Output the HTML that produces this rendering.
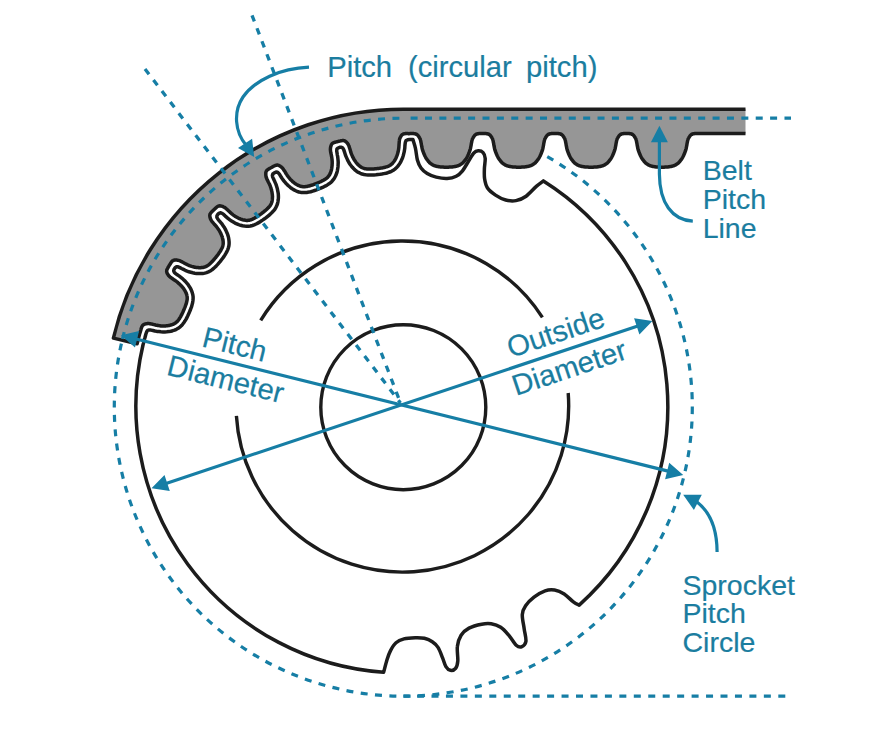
<!DOCTYPE html>
<html><head><meta charset="utf-8"><style>html,body{margin:0;padding:0;background:#fff;}svg{display:block;}</style></head>
<body><svg width="883" height="756" viewBox="0 0 883 756">
<rect width="883" height="756" fill="#fff"/>
<g fill="none" stroke="#167ea5" stroke-width="3.2" stroke-dasharray="7 7.4">
<circle cx="403.3" cy="407.2" r="289"/>
<path d="M403.3 696.2L785.5 696.2" stroke-dasharray="7 7.45" stroke-dashoffset="0.7"/>
</g>
<path d="M113.4 338.1A298 298 0 0 1 403.3 109.2L745.5 109.2L745.5 133.6L698.2 133.6L698.2 133.6L697.9 133.6L697.5 133.6L697.1 133.6L696.6 133.6L696.1 133.6L695.7 133.6L695.3 133.6L694.8 133.6L694.4 133.6L694 133.7L693.6 133.7L693.2 133.8L692.8 133.9L692.4 134L692.1 134.2L691.7 134.3L691.4 134.6L691.1 134.8L690.7 135.1L690.4 135.4L690.1 135.8L689.8 136.2L689.5 136.6L689.3 137L689 137.4L688.8 137.8L688.5 138.3L688.3 138.7L688.1 139.2L687.9 139.7L687.8 140.2L687.6 140.8L687.5 141.3L687.4 141.9L687.3 142.5L687.1 143.2L687 143.9L686.9 144.6L686.8 145.4L686.6 146.2L686.5 146.9L686.3 147.7L686.2 148.4L686 149.2L685.8 149.9L685.5 150.7L685.3 151.4L685 152.2L684.7 153L684.4 153.7L684.1 154.5L683.7 155.3L683.4 156L683 156.7L682.7 157.3L682.3 158L682 158.5L681.6 159.1L681.2 159.7L680.8 160.2L680.4 160.7L679.9 161.3L679.5 161.8L679 162.3L678.6 162.8L678.1 163.2L677.6 163.6L677.1 164L676.6 164.3L676.1 164.6L675.6 164.9L675.1 165.2L674.6 165.4L674.1 165.6L673.6 165.8L673.1 165.9L672.6 166.1L672.1 166.2L671.5 166.3L670.9 166.5L670.2 166.6L669.6 166.7L668.8 166.8L668 166.9L667.1 167L666.2 167.1L665.1 167.1L664.1 167.2L663 167.2L662 167.2L661 167.2L659.9 167.2L658.9 167.1L657.8 167.1L656.9 167L656 166.9L655.2 166.8L654.4 166.7L653.8 166.6L653.1 166.5L652.5 166.3L651.9 166.2L651.4 166.1L650.9 165.9L650.4 165.8L649.9 165.6L649.4 165.4L648.9 165.2L648.4 164.9L647.9 164.6L647.4 164.3L646.9 164L646.4 163.6L645.9 163.2L645.4 162.8L645 162.3L644.5 161.8L644.1 161.3L643.6 160.7L643.2 160.2L642.8 159.7L642.4 159.1L642 158.5L641.7 158L641.3 157.3L641 156.7L640.6 156L640.3 155.3L639.9 154.5L639.6 153.7L639.3 153L639 152.2L638.7 151.4L638.5 150.7L638.2 149.9L638 149.2L637.8 148.4L637.7 147.7L637.5 146.9L637.4 146.2L637.2 145.4L637.1 144.6L637 143.9L636.9 143.2L636.7 142.5L636.6 141.9L636.5 141.3L636.4 140.8L636.2 140.2L636.1 139.7L635.9 139.2L635.7 138.7L635.5 138.3L635.2 137.8L635 137.4L634.7 137L634.5 136.6L634.2 136.2L633.9 135.8L633.6 135.4L633.3 135.1L632.9 134.8L632.6 134.6L632.3 134.3L631.9 134.2L631.6 134L631.2 133.9L630.8 133.8L630.4 133.7L630 133.7L629.6 133.6L629.2 133.6L628.7 133.6L628.3 133.6L627.9 133.6L627.4 133.6L626.9 133.6L626.5 133.6L626.1 133.6L625.8 133.6L627.2 133.6L626.9 133.6L626.5 133.6L626.1 133.6L625.6 133.6L625.1 133.6L624.7 133.6L624.3 133.6L623.8 133.6L623.4 133.6L623 133.7L622.6 133.7L622.2 133.8L621.8 133.9L621.4 134L621.1 134.2L620.7 134.3L620.4 134.6L620.1 134.8L619.7 135.1L619.4 135.4L619.1 135.8L618.8 136.2L618.5 136.6L618.3 137L618 137.4L617.8 137.8L617.5 138.3L617.3 138.7L617.1 139.2L616.9 139.7L616.8 140.2L616.6 140.8L616.5 141.3L616.4 141.9L616.3 142.5L616.1 143.2L616 143.9L615.9 144.6L615.8 145.4L615.6 146.2L615.5 146.9L615.3 147.7L615.2 148.4L615 149.2L614.8 149.9L614.5 150.7L614.3 151.4L614 152.2L613.7 153L613.4 153.7L613.1 154.5L612.7 155.3L612.4 156L612 156.7L611.7 157.3L611.3 158L611 158.5L610.6 159.1L610.2 159.7L609.8 160.2L609.4 160.7L608.9 161.3L608.5 161.8L608 162.3L607.6 162.8L607.1 163.2L606.6 163.6L606.1 164L605.6 164.3L605.1 164.6L604.6 164.9L604.1 165.2L603.6 165.4L603.1 165.6L602.6 165.8L602.1 165.9L601.6 166.1L601.1 166.2L600.5 166.3L599.9 166.5L599.2 166.6L598.6 166.7L597.8 166.8L597 166.9L596.1 167L595.2 167.1L594.1 167.1L593.1 167.2L592 167.2L591 167.2L590 167.2L588.9 167.2L587.9 167.1L586.8 167.1L585.9 167L585 166.9L584.2 166.8L583.4 166.7L582.8 166.6L582.1 166.5L581.5 166.3L580.9 166.2L580.4 166.1L579.9 165.9L579.4 165.8L578.9 165.6L578.4 165.4L577.9 165.2L577.4 164.9L576.9 164.6L576.4 164.3L575.9 164L575.4 163.6L574.9 163.2L574.4 162.8L574 162.3L573.5 161.8L573.1 161.3L572.6 160.7L572.2 160.2L571.8 159.7L571.4 159.1L571 158.5L570.7 158L570.3 157.3L570 156.7L569.6 156L569.3 155.3L568.9 154.5L568.6 153.7L568.3 153L568 152.2L567.7 151.4L567.5 150.7L567.2 149.9L567 149.2L566.8 148.4L566.7 147.7L566.5 146.9L566.4 146.2L566.2 145.4L566.1 144.6L566 143.9L565.9 143.2L565.7 142.5L565.6 141.9L565.5 141.3L565.4 140.8L565.2 140.2L565.1 139.7L564.9 139.2L564.7 138.7L564.5 138.3L564.2 137.8L564 137.4L563.7 137L563.5 136.6L563.2 136.2L562.9 135.8L562.6 135.4L562.3 135.1L561.9 134.8L561.6 134.6L561.3 134.3L560.9 134.2L560.6 134L560.2 133.9L559.8 133.8L559.4 133.7L559 133.7L558.6 133.6L558.2 133.6L557.7 133.6L557.3 133.6L556.9 133.6L556.4 133.6L555.9 133.6L555.5 133.6L555.1 133.6L554.8 133.6L554.9 133.6L554.6 133.6L554.2 133.6L553.8 133.6L553.3 133.6L552.8 133.6L552.4 133.6L552 133.6L551.5 133.6L551.1 133.6L550.7 133.7L550.3 133.7L549.9 133.8L549.5 133.9L549.1 134L548.8 134.2L548.4 134.3L548.1 134.6L547.8 134.8L547.4 135.1L547.1 135.4L546.8 135.8L546.5 136.2L546.2 136.6L546 137L545.7 137.4L545.5 137.8L545.2 138.3L545 138.7L544.8 139.2L544.6 139.7L544.5 140.2L544.3 140.8L544.2 141.3L544.1 141.9L544 142.5L543.8 143.2L543.7 143.9L543.6 144.6L543.5 145.4L543.3 146.2L543.2 146.9L543 147.7L542.9 148.4L542.7 149.2L542.5 149.9L542.2 150.7L542 151.4L541.7 152.2L541.4 153L541.1 153.7L540.8 154.5L540.4 155.3L540.1 156L539.7 156.7L539.4 157.3L539 158L538.7 158.5L538.3 159.1L537.9 159.7L537.5 160.2L537.1 160.7L536.6 161.3L536.2 161.8L535.7 162.3L535.3 162.8L534.8 163.2L534.3 163.6L533.8 164L533.3 164.3L532.8 164.6L532.3 164.9L531.8 165.2L531.3 165.4L530.8 165.6L530.3 165.8L529.8 165.9L529.3 166.1L528.8 166.2L528.2 166.3L527.6 166.5L526.9 166.6L526.3 166.7L525.5 166.8L524.7 166.9L523.8 167L522.9 167.1L521.8 167.1L520.8 167.2L519.7 167.2L518.7 167.2L517.7 167.2L516.6 167.2L515.6 167.1L514.5 167.1L513.6 167L512.7 166.9L511.9 166.8L511.1 166.7L510.5 166.6L509.8 166.5L509.2 166.3L508.6 166.2L508.1 166.1L507.6 165.9L507.1 165.8L506.6 165.6L506.1 165.4L505.6 165.2L505.1 164.9L504.6 164.6L504.1 164.3L503.6 164L503.1 163.6L502.6 163.2L502.1 162.8L501.7 162.3L501.2 161.8L500.8 161.3L500.3 160.7L499.9 160.2L499.5 159.7L499.1 159.1L498.7 158.5L498.4 158L498 157.3L497.7 156.7L497.3 156L497 155.3L496.6 154.5L496.3 153.7L496 153L495.7 152.2L495.4 151.4L495.2 150.7L494.9 149.9L494.7 149.2L494.5 148.4L494.4 147.7L494.2 146.9L494.1 146.2L493.9 145.4L493.8 144.6L493.7 143.9L493.6 143.2L493.4 142.5L493.3 141.9L493.2 141.3L493.1 140.8L492.9 140.2L492.8 139.7L492.6 139.2L492.4 138.7L492.2 138.3L491.9 137.8L491.7 137.4L491.4 137L491.2 136.6L490.9 136.2L490.6 135.8L490.3 135.4L490 135.1L489.6 134.8L489.3 134.6L489 134.3L488.6 134.2L488.3 134L487.9 133.9L487.5 133.8L487.1 133.7L486.7 133.7L486.3 133.6L485.9 133.6L485.4 133.6L485 133.6L484.6 133.6L484.1 133.6L483.6 133.6L483.2 133.6L482.8 133.6L482.5 133.6L482.5 133.6L482.5 133.6L482.2 133.6L481.8 133.6L481.4 133.6L480.9 133.6L480.4 133.6L480 133.6L479.6 133.6L479.1 133.6L478.7 133.6L478.3 133.7L477.9 133.7L477.5 133.8L477.1 133.9L476.7 134L476.4 134.2L476 134.3L475.7 134.6L475.4 134.8L475 135.1L474.7 135.4L474.4 135.8L474.1 136.2L473.8 136.6L473.6 137L473.3 137.4L473.1 137.8L472.8 138.3L472.6 138.7L472.4 139.2L472.2 139.7L472.1 140.2L471.9 140.8L471.8 141.3L471.7 141.9L471.6 142.5L471.4 143.2L471.3 143.9L471.2 144.6L471.1 145.4L470.9 146.2L470.8 146.9L470.6 147.7L470.5 148.4L470.3 149.2L470.1 149.9L469.8 150.7L469.6 151.4L469.3 152.2L469 153L468.7 153.7L468.4 154.5L468 155.3L467.7 156L467.3 156.7L467 157.3L466.6 158L466.3 158.5L465.9 159.1L465.5 159.7L465.1 160.2L464.7 160.7L464.2 161.3L463.8 161.8L463.3 162.3L462.9 162.8L462.4 163.2L461.9 163.6L461.4 164L460.9 164.3L460.4 164.6L459.9 164.9L459.4 165.2L458.9 165.4L458.4 165.6L457.9 165.8L457.4 165.9L456.9 166.1L456.4 166.2L455.8 166.3L455.2 166.5L454.5 166.6L453.9 166.7L453.1 166.8L452.3 166.9L451.4 167L450.5 167.1L449.4 167.1L448.4 167.2L447.3 167.2L446.3 167.2L445.3 167.2L444.2 167.2L443.2 167.1L442.1 167.1L441.2 167L440.3 166.9L439.5 166.8L438.7 166.7L438.1 166.6L437.4 166.5L436.8 166.3L436.2 166.2L435.7 166.1L435.2 165.9L434.7 165.8L434.2 165.6L433.7 165.4L433.2 165.2L432.7 164.9L432.2 164.6L431.7 164.3L431.2 164L430.7 163.6L430.2 163.2L429.7 162.8L429.3 162.3L428.8 161.8L428.4 161.3L427.9 160.7L427.5 160.2L427.1 159.7L426.7 159.1L426.3 158.5L426 158L425.6 157.3L425.3 156.7L424.9 156L424.6 155.3L424.2 154.5L423.9 153.7L423.6 153L423.3 152.2L423 151.4L422.8 150.7L422.5 149.9L422.3 149.2L422.1 148.4L422 147.7L421.8 146.9L421.7 146.2L421.5 145.4L421.4 144.6L421.3 143.9L421.2 143.2L421 142.5L420.9 141.9L420.8 141.3L420.7 140.8L420.5 140.2L420.4 139.7L420.2 139.2L420 138.7L419.8 138.3L419.5 137.8L419.3 137.4L419 137L418.8 136.6L418.5 136.2L418.2 135.8L417.9 135.4L417.6 135.1L417.2 134.8L416.9 134.6L416.6 134.3L416.2 134.2L415.9 134L415.5 133.9L415.1 133.8L414.7 133.7L414.3 133.7L413.9 133.6L413.5 133.6L413 133.6L412.6 133.6L412.2 133.6L411.7 133.6L411.2 133.6L410.8 133.6L410.4 133.6L410.1 133.6L409 133.7L409 133.7L408.7 133.7L408.3 133.6L407.9 133.6L407.4 133.6L406.9 133.6L406.5 133.6L406.1 133.6L405.7 133.6L405.2 133.6L404.8 133.7L404.4 133.7L404 133.8L403.7 133.9L403.3 134L403 134.2L402.7 134.3L402.4 134.6L402.1 134.8L401.8 135.1L401.5 135.4L401.2 135.8L401 136.2L400.7 136.6L400.5 137L400.3 137.4L400.1 137.9L399.9 138.3L399.8 138.7L399.6 139.2L399.5 139.7L399.4 140.3L399.3 140.8L399.3 141.4L399.2 142L399.2 142.6L399.1 143.2L399.1 143.9L399 144.7L399 145.4L398.9 146.2L398.9 147L398.8 147.7L398.7 148.5L398.6 149.2L398.5 150L398.3 150.7L398.2 151.5L398 152.3L397.8 153L397.6 153.8L397.3 154.6L397.1 155.4L396.8 156.1L396.5 156.8L396.2 157.4L396 158.1L395.7 158.7L395.4 159.2L395.1 159.8L394.7 160.3L394.4 160.9L394 161.5L393.6 162L393.2 162.5L392.8 163L392.4 163.4L391.9 163.9L391.5 164.3L391 164.6L390.6 165L390.1 165.3L389.6 165.6L389.2 165.8L388.7 166.1L388.3 166.3L387.8 166.4L387.3 166.6L386.7 166.8L386.2 166.9L385.6 167.1L385 167.3L384.3 167.5L383.6 167.6L382.9 167.8L382 167.9L381 168.1L380 168.2L379 168.4L378 168.5L377 168.6L376 168.8L374.9 168.8L373.9 168.9L372.9 169L371.9 169L371 169.1L370.2 169.1L369.5 169.1L368.8 169.1L368.2 169L367.6 169L367 168.9L366.4 168.9L365.9 168.8L365.4 168.8L364.9 168.7L364.5 168.6L364 168.4L363.4 168.2L362.9 168L362.4 167.8L361.8 167.5L361.3 167.2L360.8 166.9L360.3 166.6L359.8 166.2L359.3 165.8L358.8 165.3L358.3 164.9L357.8 164.4L357.4 164L356.9 163.5L356.5 163L356.1 162.5L355.7 161.9L355.3 161.3L354.9 160.7L354.4 160.1L354 159.4L353.6 158.7L353.2 157.9L352.8 157.2L352.5 156.5L352.2 155.8L351.9 155.1L351.6 154.4L351.3 153.7L351.1 153L350.8 152.3L350.6 151.5L350.4 150.8L350.2 150L350 149.3L349.8 148.7L349.6 148.1L349.4 147.5L349.2 146.9L349.1 146.4L348.9 145.8L348.6 145.3L348.4 144.9L348.2 144.4L347.9 144L347.6 143.6L347.4 143.3L347.1 142.9L346.8 142.6L346.5 142.2L346.1 141.9L345.8 141.6L345.4 141.3L345.1 141.1L344.7 140.9L344.4 140.8L344 140.7L343.7 140.6L343.3 140.6L342.9 140.5L342.6 140.6L342.1 140.6L341.7 140.7L341.3 140.7L340.9 140.8L340.5 140.9L340.1 141L339.6 141.1L339.1 141.2L338.7 141.3L338.3 141.4L338.1 141.5L338 141.5L338 141.5L337.7 141.6L337.4 141.7L336.9 141.8L336.5 141.9L336 142L335.6 142.1L335.2 142.2L334.8 142.3L334.4 142.5L334 142.6L333.6 142.7L333.2 142.9L332.9 143.1L332.6 143.3L332.3 143.6L332.1 143.8L331.8 144.1L331.6 144.4L331.4 144.8L331.2 145.2L331.1 145.6L330.9 146L330.8 146.5L330.7 146.9L330.6 147.4L330.5 147.9L330.5 148.3L330.4 148.8L330.4 149.3L330.4 149.8L330.5 150.4L330.5 150.9L330.6 151.5L330.7 152.1L330.8 152.7L330.9 153.3L331.1 154L331.2 154.7L331.4 155.5L331.5 156.2L331.7 157L331.8 157.7L331.9 158.5L332 159.2L332.1 160L332.1 160.8L332.2 161.5L332.2 162.3L332.2 163.1L332.2 163.9L332.1 164.7L332.1 165.5L332 166.3L331.9 167.1L331.8 167.8L331.7 168.5L331.6 169.1L331.5 169.7L331.3 170.4L331.1 171L330.9 171.6L330.7 172.2L330.5 172.9L330.2 173.5L329.9 174L329.7 174.6L329.3 175.1L329 175.6L328.7 176.1L328.3 176.5L327.9 177L327.5 177.4L327.2 177.7L326.8 178.1L326.4 178.4L326 178.6L325.6 178.9L325.1 179.2L324.6 179.6L324.1 179.9L323.5 180.2L322.9 180.5L322.3 180.9L321.6 181.2L320.8 181.6L319.9 182L319 182.4L318 182.8L317.1 183.2L316.1 183.6L315.2 184L314.2 184.3L313.2 184.7L312.2 185L311.3 185.3L310.5 185.5L309.7 185.8L309 186L308.4 186.1L307.8 186.2L307.2 186.4L306.6 186.5L306 186.6L305.5 186.6L305 186.7L304.5 186.7L304 186.8L303.5 186.7L302.9 186.7L302.4 186.6L301.8 186.6L301.2 186.4L300.6 186.3L300.1 186.1L299.5 185.9L298.9 185.7L298.3 185.4L297.7 185.1L297.1 184.8L296.5 184.5L296 184.1L295.4 183.8L294.9 183.4L294.4 183L293.8 182.6L293.3 182.1L292.7 181.7L292.1 181.1L291.6 180.6L291 180L290.4 179.4L289.9 178.8L289.4 178.2L288.9 177.6L288.4 177L287.9 176.4L287.5 175.8L287.1 175.2L286.7 174.5L286.2 173.9L285.8 173.2L285.5 172.6L285.1 171.9L284.7 171.3L284.4 170.8L284 170.3L283.7 169.8L283.4 169.3L283.1 168.8L282.7 168.4L282.4 168L282 167.7L281.7 167.3L281.3 167L281 166.7L280.6 166.5L280.2 166.2L279.8 166L279.4 165.7L279 165.5L278.6 165.4L278.2 165.2L277.8 165.1L277.4 165.1L277.1 165.1L276.7 165.1L276.4 165.2L276 165.3L275.6 165.4L275.2 165.5L274.8 165.7L274.5 165.9L274.1 166L273.7 166.2L273.3 166.4L272.9 166.7L272.5 166.9L272.1 167.1L271.8 167.3L271.5 167.4L271.5 167.4L271.4 167.5L271.2 167.6L270.9 167.8L270.5 168L270.1 168.2L269.7 168.4L269.3 168.7L268.9 168.9L268.6 169.1L268.2 169.3L267.9 169.6L267.5 169.8L267.2 170.1L267 170.3L266.7 170.6L266.5 170.9L266.3 171.2L266.2 171.6L266 171.9L265.9 172.3L265.8 172.7L265.8 173.2L265.8 173.7L265.8 174.1L265.8 174.6L265.8 175.1L265.9 175.5L265.9 176L266 176.5L266.1 177L266.3 177.5L266.5 178L266.7 178.5L266.9 179L267.1 179.5L267.4 180.1L267.7 180.7L268 181.3L268.3 182L268.7 182.7L269 183.3L269.4 184L269.7 184.7L270 185.4L270.3 186.1L270.5 186.9L270.8 187.6L271 188.3L271.2 189.1L271.5 189.8L271.6 190.6L271.8 191.4L272 192.2L272.1 193L272.2 193.7L272.3 194.4L272.4 195.1L272.4 195.8L272.5 196.4L272.5 197.1L272.4 197.7L272.4 198.4L272.4 199L272.3 199.7L272.2 200.3L272.1 201L272 201.6L271.8 202.2L271.6 202.7L271.4 203.3L271.2 203.8L270.9 204.3L270.6 204.8L270.4 205.3L270.1 205.7L269.8 206.1L269.5 206.4L269.1 206.8L268.8 207.3L268.4 207.7L267.9 208.1L267.5 208.6L267 209.1L266.5 209.5L265.9 210.1L265.2 210.6L264.5 211.2L263.7 211.9L262.9 212.5L262 213.2L261.2 213.8L260.4 214.4L259.5 215L258.7 215.6L257.8 216.1L257 216.7L256.3 217.1L255.6 217.5L255 217.9L254.4 218.2L253.8 218.5L253.3 218.8L252.7 219L252.2 219.3L251.7 219.5L251.3 219.7L250.8 219.8L250.3 220L249.8 220.1L249.3 220.2L248.7 220.3L248.2 220.3L247.6 220.4L247 220.4L246.4 220.4L245.7 220.3L245.1 220.2L244.5 220.1L243.8 220L243.2 219.9L242.5 219.7L241.9 219.5L241.3 219.3L240.7 219.1L240.1 218.8L239.4 218.6L238.8 218.3L238.1 218L237.4 217.6L236.7 217.2L236 216.8L235.3 216.4L234.6 216L234 215.5L233.4 215.1L232.7 214.6L232.2 214.1L231.6 213.7L231 213.2L230.4 212.7L229.8 212.1L229.3 211.6L228.7 211L228.2 210.5L227.7 210.1L227.2 209.6L226.8 209.2L226.3 208.8L225.9 208.4L225.5 208.1L225 207.8L224.6 207.5L224.2 207.2L223.8 207L223.3 206.8L222.9 206.6L222.5 206.4L222 206.3L221.6 206.1L221.1 206L220.7 205.9L220.2 205.9L219.8 205.8L219.4 205.9L219.1 205.9L218.7 206L218.4 206.1L218 206.3L217.7 206.4L217.4 206.6L217 206.9L216.7 207.1L216.4 207.4L216.1 207.7L215.8 208L215.4 208.3L215.1 208.6L214.7 208.9L214.4 209.2L214.2 209.5L214 209.7L213.9 209.7L213.9 209.8L213.7 209.9L213.4 210.2L213.1 210.5L212.8 210.8L212.4 211.2L212.1 211.5L211.8 211.8L211.5 212.1L211.2 212.4L211 212.7L210.7 213L210.5 213.4L210.3 213.7L210.2 214L210 214.4L209.9 214.7L209.8 215.1L209.8 215.5L209.8 215.9L209.9 216.3L209.9 216.8L210 217.2L210.1 217.7L210.3 218.1L210.4 218.6L210.6 219L210.8 219.4L211 219.9L211.2 220.3L211.5 220.7L211.8 221.2L212.1 221.6L212.5 222.1L212.9 222.5L213.3 223L213.7 223.5L214.1 224L214.6 224.6L215.1 225.1L215.7 225.7L216.2 226.3L216.7 226.9L217.1 227.5L217.6 228.1L218 228.7L218.5 229.4L218.9 230L219.3 230.7L219.7 231.4L220.1 232.1L220.5 232.8L220.8 233.5L221.1 234.2L221.4 234.9L221.7 235.6L221.9 236.2L222.2 236.8L222.4 237.5L222.5 238.1L222.7 238.7L222.8 239.4L222.9 240L223.1 240.7L223.1 241.3L223.2 241.9L223.2 242.6L223.2 243.2L223.2 243.8L223.1 244.4L223 244.9L222.9 245.5L222.8 246L222.6 246.5L222.5 247L222.3 247.5L222.1 247.9L221.8 248.4L221.6 248.9L221.3 249.4L221 250L220.7 250.5L220.4 251.1L220 251.7L219.5 252.3L219 253.1L218.5 253.9L217.9 254.7L217.3 255.5L216.6 256.3L216 257.1L215.4 257.9L214.7 258.7L214 259.5L213.3 260.3L212.7 261L212.1 261.7L211.5 262.2L211 262.7L210.5 263.2L210.1 263.6L209.6 264L209.2 264.4L208.7 264.8L208.3 265.1L207.9 265.4L207.5 265.7L207.1 265.9L206.6 266.2L206.1 266.4L205.6 266.7L205.1 266.9L204.5 267.1L203.9 267.2L203.3 267.4L202.7 267.5L202.1 267.6L201.5 267.6L200.8 267.7L200.1 267.7L199.5 267.7L198.8 267.7L198.2 267.6L197.5 267.6L196.9 267.5L196.2 267.4L195.5 267.3L194.8 267.2L194 267L193.2 266.8L192.4 266.6L191.6 266.4L190.9 266.1L190.1 265.9L189.4 265.6L188.7 265.3L188 265L187.3 264.7L186.6 264.4L186 264L185.3 263.7L184.6 263.3L183.9 262.9L183.3 262.5L182.7 262.2L182.1 261.9L181.5 261.6L181 261.4L180.5 261.1L180 260.9L179.5 260.7L179 260.5L178.5 260.4L178 260.3L177.6 260.2L177.1 260.1L176.7 260.1L176.2 260L175.7 260L175.3 260L174.8 260.1L174.4 260.1L174 260.2L173.6 260.3L173.3 260.5L172.9 260.6L172.6 260.8L172.4 261.1L172.1 261.3L171.8 261.6L171.5 261.9L171.3 262.3L171.1 262.6L170.8 263L170.6 263.3L170.4 263.7L170.1 264.1L169.9 264.5L169.6 264.9L169.4 265.2L169.3 265.4L169.3 265.5L169.2 265.5L169.1 265.7L168.9 266.1L168.7 266.4L168.4 266.8L168.2 267.3L168 267.6L167.8 268L167.6 268.4L167.4 268.7L167.2 269.1L167 269.5L166.9 269.9L166.8 270.2L166.7 270.6L166.7 271L166.7 271.3L166.7 271.7L166.8 272.1L166.9 272.5L167 272.9L167.2 273.3L167.4 273.7L167.7 274.1L167.9 274.5L168.2 274.9L168.4 275.3L168.7 275.7L169.1 276L169.4 276.4L169.8 276.7L170.2 277.1L170.6 277.4L171.1 277.8L171.6 278.1L172.1 278.5L172.6 278.8L173.2 279.2L173.8 279.6L174.4 280.1L175.1 280.5L175.7 280.9L176.4 281.4L177 281.8L177.6 282.3L178.1 282.8L178.7 283.3L179.3 283.8L179.9 284.3L180.4 284.9L181 285.5L181.5 286.1L182.1 286.7L182.6 287.3L183.1 287.9L183.5 288.4L183.9 289L184.2 289.5L184.6 290.1L184.9 290.6L185.2 291.2L185.5 291.8L185.8 292.4L186.1 293L186.3 293.6L186.6 294.2L186.7 294.8L186.9 295.4L187 296L187.1 296.5L187.2 297.1L187.2 297.7L187.2 298.2L187.2 298.8L187.2 299.3L187.1 299.8L187 300.3L186.9 300.8L186.8 301.3L186.7 301.9L186.5 302.5L186.4 303.1L186.2 303.7L186 304.4L185.7 305.2L185.4 306L185.1 306.9L184.7 307.9L184.3 308.8L183.9 309.8L183.5 310.7L183.1 311.7L182.7 312.6L182.2 313.5L181.8 314.5L181.3 315.3L180.9 316.1L180.6 316.8L180.2 317.4L179.8 318L179.5 318.5L179.2 319L178.8 319.5L178.5 320L178.2 320.4L177.9 320.8L177.6 321.2L177.2 321.5L176.8 321.9L176.4 322.2L176 322.6L175.5 322.9L175 323.3L174.5 323.6L174 323.9L173.4 324.1L172.8 324.4L172.2 324.6L171.6 324.8L170.9 325L170.3 325.2L169.7 325.3L169.1 325.5L168.4 325.6L167.8 325.7L167.1 325.8L166.4 325.8L165.6 325.9L164.8 325.9L164 326L163.2 326L162.4 325.9L161.6 325.9L160.8 325.9L160.1 325.8L159.3 325.7L158.6 325.6L157.8 325.5L157.1 325.3L156.3 325.2L155.5 325L154.8 324.8L154.1 324.6L153.3 324.4L152.7 324.3L152 324.1L151.4 324L150.8 323.9L150.3 323.8L149.7 323.7L149.2 323.6L148.7 323.6L148.2 323.6L147.7 323.6L147.2 323.6L146.8 323.7L146.3 323.7L145.9 323.8L145.4 323.9L144.9 324.1L144.5 324.2L144.1 324.4L143.7 324.6L143.4 324.8L143.1 325L142.9 325.3L142.6 325.5L142.4 325.8L142.2 326.1L142 326.5L141.8 326.9L141.7 327.2L141.5 327.6L141.4 328L141.3 328.4L141.1 328.9L141 329.3L140.9 329.8L140.8 330.2L140.7 330.6L140.6 330.8L139.8 333.4L139.1 336L138.4 338.6L137.8 341.2L137.1 343.8Z" fill="#969696"/>
<path d="M745.5 133.6L698.2 133.6L698.2 133.6L697.9 133.6L697.5 133.6L697.1 133.6L696.6 133.6L696.1 133.6L695.7 133.6L695.3 133.6L694.8 133.6L694.4 133.6L694 133.7L693.6 133.7L693.2 133.8L692.8 133.9L692.4 134L692.1 134.2L691.7 134.3L691.4 134.6L691.1 134.8L690.7 135.1L690.4 135.4L690.1 135.8L689.8 136.2L689.5 136.6L689.3 137L689 137.4L688.8 137.8L688.5 138.3L688.3 138.7L688.1 139.2L687.9 139.7L687.8 140.2L687.6 140.8L687.5 141.3L687.4 141.9L687.3 142.5L687.1 143.2L687 143.9L686.9 144.6L686.8 145.4L686.6 146.2L686.5 146.9L686.3 147.7L686.2 148.4L686 149.2L685.8 149.9L685.5 150.7L685.3 151.4L685 152.2L684.7 153L684.4 153.7L684.1 154.5L683.7 155.3L683.4 156L683 156.7L682.7 157.3L682.3 158L682 158.5L681.6 159.1L681.2 159.7L680.8 160.2L680.4 160.7L679.9 161.3L679.5 161.8L679 162.3L678.6 162.8L678.1 163.2L677.6 163.6L677.1 164L676.6 164.3L676.1 164.6L675.6 164.9L675.1 165.2L674.6 165.4L674.1 165.6L673.6 165.8L673.1 165.9L672.6 166.1L672.1 166.2L671.5 166.3L670.9 166.5L670.2 166.6L669.6 166.7L668.8 166.8L668 166.9L667.1 167L666.2 167.1L665.1 167.1L664.1 167.2L663 167.2L662 167.2L661 167.2L659.9 167.2L658.9 167.1L657.8 167.1L656.9 167L656 166.9L655.2 166.8L654.4 166.7L653.8 166.6L653.1 166.5L652.5 166.3L651.9 166.2L651.4 166.1L650.9 165.9L650.4 165.8L649.9 165.6L649.4 165.4L648.9 165.2L648.4 164.9L647.9 164.6L647.4 164.3L646.9 164L646.4 163.6L645.9 163.2L645.4 162.8L645 162.3L644.5 161.8L644.1 161.3L643.6 160.7L643.2 160.2L642.8 159.7L642.4 159.1L642 158.5L641.7 158L641.3 157.3L641 156.7L640.6 156L640.3 155.3L639.9 154.5L639.6 153.7L639.3 153L639 152.2L638.7 151.4L638.5 150.7L638.2 149.9L638 149.2L637.8 148.4L637.7 147.7L637.5 146.9L637.4 146.2L637.2 145.4L637.1 144.6L637 143.9L636.9 143.2L636.7 142.5L636.6 141.9L636.5 141.3L636.4 140.8L636.2 140.2L636.1 139.7L635.9 139.2L635.7 138.7L635.5 138.3L635.2 137.8L635 137.4L634.7 137L634.5 136.6L634.2 136.2L633.9 135.8L633.6 135.4L633.3 135.1L632.9 134.8L632.6 134.6L632.3 134.3L631.9 134.2L631.6 134L631.2 133.9L630.8 133.8L630.4 133.7L630 133.7L629.6 133.6L629.2 133.6L628.7 133.6L628.3 133.6L627.9 133.6L627.4 133.6L626.9 133.6L626.5 133.6L626.1 133.6L625.8 133.6L627.2 133.6L626.9 133.6L626.5 133.6L626.1 133.6L625.6 133.6L625.1 133.6L624.7 133.6L624.3 133.6L623.8 133.6L623.4 133.6L623 133.7L622.6 133.7L622.2 133.8L621.8 133.9L621.4 134L621.1 134.2L620.7 134.3L620.4 134.6L620.1 134.8L619.7 135.1L619.4 135.4L619.1 135.8L618.8 136.2L618.5 136.6L618.3 137L618 137.4L617.8 137.8L617.5 138.3L617.3 138.7L617.1 139.2L616.9 139.7L616.8 140.2L616.6 140.8L616.5 141.3L616.4 141.9L616.3 142.5L616.1 143.2L616 143.9L615.9 144.6L615.8 145.4L615.6 146.2L615.5 146.9L615.3 147.7L615.2 148.4L615 149.2L614.8 149.9L614.5 150.7L614.3 151.4L614 152.2L613.7 153L613.4 153.7L613.1 154.5L612.7 155.3L612.4 156L612 156.7L611.7 157.3L611.3 158L611 158.5L610.6 159.1L610.2 159.7L609.8 160.2L609.4 160.7L608.9 161.3L608.5 161.8L608 162.3L607.6 162.8L607.1 163.2L606.6 163.6L606.1 164L605.6 164.3L605.1 164.6L604.6 164.9L604.1 165.2L603.6 165.4L603.1 165.6L602.6 165.8L602.1 165.9L601.6 166.1L601.1 166.2L600.5 166.3L599.9 166.5L599.2 166.6L598.6 166.7L597.8 166.8L597 166.9L596.1 167L595.2 167.1L594.1 167.1L593.1 167.2L592 167.2L591 167.2L590 167.2L588.9 167.2L587.9 167.1L586.8 167.1L585.9 167L585 166.9L584.2 166.8L583.4 166.7L582.8 166.6L582.1 166.5L581.5 166.3L580.9 166.2L580.4 166.1L579.9 165.9L579.4 165.8L578.9 165.6L578.4 165.4L577.9 165.2L577.4 164.9L576.9 164.6L576.4 164.3L575.9 164L575.4 163.6L574.9 163.2L574.4 162.8L574 162.3L573.5 161.8L573.1 161.3L572.6 160.7L572.2 160.2L571.8 159.7L571.4 159.1L571 158.5L570.7 158L570.3 157.3L570 156.7L569.6 156L569.3 155.3L568.9 154.5L568.6 153.7L568.3 153L568 152.2L567.7 151.4L567.5 150.7L567.2 149.9L567 149.2L566.8 148.4L566.7 147.7L566.5 146.9L566.4 146.2L566.2 145.4L566.1 144.6L566 143.9L565.9 143.2L565.7 142.5L565.6 141.9L565.5 141.3L565.4 140.8L565.2 140.2L565.1 139.7L564.9 139.2L564.7 138.7L564.5 138.3L564.2 137.8L564 137.4L563.7 137L563.5 136.6L563.2 136.2L562.9 135.8L562.6 135.4L562.3 135.1L561.9 134.8L561.6 134.6L561.3 134.3L560.9 134.2L560.6 134L560.2 133.9L559.8 133.8L559.4 133.7L559 133.7L558.6 133.6L558.2 133.6L557.7 133.6L557.3 133.6L556.9 133.6L556.4 133.6L555.9 133.6L555.5 133.6L555.1 133.6L554.8 133.6L554.9 133.6L554.6 133.6L554.2 133.6L553.8 133.6L553.3 133.6L552.8 133.6L552.4 133.6L552 133.6L551.5 133.6L551.1 133.6L550.7 133.7L550.3 133.7L549.9 133.8L549.5 133.9L549.1 134L548.8 134.2L548.4 134.3L548.1 134.6L547.8 134.8L547.4 135.1L547.1 135.4L546.8 135.8L546.5 136.2L546.2 136.6L546 137L545.7 137.4L545.5 137.8L545.2 138.3L545 138.7L544.8 139.2L544.6 139.7L544.5 140.2L544.3 140.8L544.2 141.3L544.1 141.9L544 142.5L543.8 143.2L543.7 143.9L543.6 144.6L543.5 145.4L543.3 146.2L543.2 146.9L543 147.7L542.9 148.4L542.7 149.2L542.5 149.9L542.2 150.7L542 151.4L541.7 152.2L541.4 153L541.1 153.7L540.8 154.5L540.4 155.3L540.1 156L539.7 156.7L539.4 157.3L539 158L538.7 158.5L538.3 159.1L537.9 159.7L537.5 160.2L537.1 160.7L536.6 161.3L536.2 161.8L535.7 162.3L535.3 162.8L534.8 163.2L534.3 163.6L533.8 164L533.3 164.3L532.8 164.6L532.3 164.9L531.8 165.2L531.3 165.4L530.8 165.6L530.3 165.8L529.8 165.9L529.3 166.1L528.8 166.2L528.2 166.3L527.6 166.5L526.9 166.6L526.3 166.7L525.5 166.8L524.7 166.9L523.8 167L522.9 167.1L521.8 167.1L520.8 167.2L519.7 167.2L518.7 167.2L517.7 167.2L516.6 167.2L515.6 167.1L514.5 167.1L513.6 167L512.7 166.9L511.9 166.8L511.1 166.7L510.5 166.6L509.8 166.5L509.2 166.3L508.6 166.2L508.1 166.1L507.6 165.9L507.1 165.8L506.6 165.6L506.1 165.4L505.6 165.2L505.1 164.9L504.6 164.6L504.1 164.3L503.6 164L503.1 163.6L502.6 163.2L502.1 162.8L501.7 162.3L501.2 161.8L500.8 161.3L500.3 160.7L499.9 160.2L499.5 159.7L499.1 159.1L498.7 158.5L498.4 158L498 157.3L497.7 156.7L497.3 156L497 155.3L496.6 154.5L496.3 153.7L496 153L495.7 152.2L495.4 151.4L495.2 150.7L494.9 149.9L494.7 149.2L494.5 148.4L494.4 147.7L494.2 146.9L494.1 146.2L493.9 145.4L493.8 144.6L493.7 143.9L493.6 143.2L493.4 142.5L493.3 141.9L493.2 141.3L493.1 140.8L492.9 140.2L492.8 139.7L492.6 139.2L492.4 138.7L492.2 138.3L491.9 137.8L491.7 137.4L491.4 137L491.2 136.6L490.9 136.2L490.6 135.8L490.3 135.4L490 135.1L489.6 134.8L489.3 134.6L489 134.3L488.6 134.2L488.3 134L487.9 133.9L487.5 133.8L487.1 133.7L486.7 133.7L486.3 133.6L485.9 133.6L485.4 133.6L485 133.6L484.6 133.6L484.1 133.6L483.6 133.6L483.2 133.6L482.8 133.6L482.5 133.6L482.5 133.6L482.5 133.6L482.2 133.6L481.8 133.6L481.4 133.6L480.9 133.6L480.4 133.6L480 133.6L479.6 133.6L479.1 133.6L478.7 133.6L478.3 133.7L477.9 133.7L477.5 133.8L477.1 133.9L476.7 134L476.4 134.2L476 134.3L475.7 134.6L475.4 134.8L475 135.1L474.7 135.4L474.4 135.8L474.1 136.2L473.8 136.6L473.6 137L473.3 137.4L473.1 137.8L472.8 138.3L472.6 138.7L472.4 139.2L472.2 139.7L472.1 140.2L471.9 140.8L471.8 141.3L471.7 141.9L471.6 142.5L471.4 143.2L471.3 143.9L471.2 144.6L471.1 145.4L470.9 146.2L470.8 146.9L470.6 147.7L470.5 148.4L470.3 149.2L470.1 149.9L469.8 150.7L469.6 151.4L469.3 152.2L469 153L468.7 153.7L468.4 154.5L468 155.3L467.7 156L467.3 156.7L467 157.3L466.6 158L466.3 158.5L465.9 159.1L465.5 159.7L465.1 160.2L464.7 160.7L464.2 161.3L463.8 161.8L463.3 162.3L462.9 162.8L462.4 163.2L461.9 163.6L461.4 164L460.9 164.3L460.4 164.6L459.9 164.9L459.4 165.2L458.9 165.4L458.4 165.6L457.9 165.8L457.4 165.9L456.9 166.1L456.4 166.2L455.8 166.3L455.2 166.5L454.5 166.6L453.9 166.7L453.1 166.8L452.3 166.9L451.4 167L450.5 167.1L449.4 167.1L448.4 167.2L447.3 167.2L446.3 167.2L445.3 167.2L444.2 167.2L443.2 167.1L442.1 167.1L441.2 167L440.3 166.9L439.5 166.8L438.7 166.7L438.1 166.6L437.4 166.5L436.8 166.3L436.2 166.2L435.7 166.1L435.2 165.9L434.7 165.8L434.2 165.6L433.7 165.4L433.2 165.2L432.7 164.9L432.2 164.6L431.7 164.3L431.2 164L430.7 163.6L430.2 163.2L429.7 162.8L429.3 162.3L428.8 161.8L428.4 161.3L427.9 160.7L427.5 160.2L427.1 159.7L426.7 159.1L426.3 158.5L426 158L425.6 157.3L425.3 156.7L424.9 156L424.6 155.3L424.2 154.5L423.9 153.7L423.6 153L423.3 152.2L423 151.4L422.8 150.7L422.5 149.9L422.3 149.2L422.1 148.4L422 147.7L421.8 146.9L421.7 146.2L421.5 145.4L421.4 144.6L421.3 143.9L421.2 143.2L421 142.5L420.9 141.9L420.8 141.3L420.7 140.8L420.5 140.2L420.4 139.7L420.2 139.2L420 138.7L419.8 138.3L419.5 137.8L419.3 137.4L419 137L418.8 136.6L418.5 136.2L418.2 135.8L417.9 135.4L417.6 135.1L417.2 134.8L416.9 134.6L416.6 134.3L416.2 134.2L415.9 134L415.5 133.9L415.1 133.8L414.7 133.7L414.3 133.7L413.9 133.6L413.5 133.6L413 133.6L412.6 133.6L412.2 133.6L411.7 133.6L411.2 133.6L410.8 133.6L410.4 133.6L410.1 133.6L409 133.7L409 133.7L408.7 133.7L408.3 133.6L407.9 133.6L407.4 133.6L406.9 133.6L406.5 133.6L406.1 133.6L405.7 133.6L405.2 133.6L404.8 133.7L404.4 133.7L404 133.8L403.7 133.9L403.3 134L403 134.2L402.7 134.3L402.4 134.6L402.1 134.8L401.8 135.1L401.5 135.4L401.2 135.8L401 136.2L400.7 136.6L400.5 137L400.3 137.4L400.1 137.9L399.9 138.3L399.8 138.7L399.6 139.2L399.5 139.7L399.4 140.3L399.3 140.8L399.3 141.4L399.2 142L399.2 142.6L399.1 143.2L399.1 143.9L399 144.7L399 145.4L398.9 146.2L398.9 147L398.8 147.7L398.7 148.5L398.6 149.2L398.5 150L398.3 150.7L398.2 151.5L398 152.3L397.8 153L397.6 153.8L397.3 154.6L397.1 155.4L396.8 156.1L396.5 156.8L396.2 157.4L396 158.1L395.7 158.7L395.4 159.2L395.1 159.8L394.7 160.3L394.4 160.9L394 161.5L393.6 162L393.2 162.5L392.8 163L392.4 163.4L391.9 163.9L391.5 164.3L391 164.6L390.6 165L390.1 165.3L389.6 165.6L389.2 165.8L388.7 166.1L388.3 166.3L387.8 166.4L387.3 166.6L386.7 166.8L386.2 166.9L385.6 167.1L385 167.3L384.3 167.5L383.6 167.6L382.9 167.8L382 167.9L381 168.1L380 168.2L379 168.4L378 168.5L377 168.6L376 168.8L374.9 168.8L373.9 168.9L372.9 169L371.9 169L371 169.1L370.2 169.1L369.5 169.1L368.8 169.1L368.2 169L367.6 169L367 168.9L366.4 168.9L365.9 168.8L365.4 168.8L364.9 168.7L364.5 168.6L364 168.4L363.4 168.2L362.9 168L362.4 167.8L361.8 167.5L361.3 167.2L360.8 166.9L360.3 166.6L359.8 166.2L359.3 165.8L358.8 165.3L358.3 164.9L357.8 164.4L357.4 164L356.9 163.5L356.5 163L356.1 162.5L355.7 161.9L355.3 161.3L354.9 160.7L354.4 160.1L354 159.4L353.6 158.7L353.2 157.9L352.8 157.2L352.5 156.5L352.2 155.8L351.9 155.1L351.6 154.4L351.3 153.7L351.1 153L350.8 152.3L350.6 151.5L350.4 150.8L350.2 150L350 149.3L349.8 148.7L349.6 148.1L349.4 147.5L349.2 146.9L349.1 146.4L348.9 145.8L348.6 145.3L348.4 144.9L348.2 144.4L347.9 144L347.6 143.6L347.4 143.3L347.1 142.9L346.8 142.6L346.5 142.2L346.1 141.9L345.8 141.6L345.4 141.3L345.1 141.1L344.7 140.9L344.4 140.8L344 140.7L343.7 140.6L343.3 140.6L342.9 140.5L342.6 140.6L342.1 140.6L341.7 140.7L341.3 140.7L340.9 140.8L340.5 140.9L340.1 141L339.6 141.1L339.1 141.2L338.7 141.3L338.3 141.4L338.1 141.5L338 141.5L338 141.5L337.7 141.6L337.4 141.7L336.9 141.8L336.5 141.9L336 142L335.6 142.1L335.2 142.2L334.8 142.3L334.4 142.5L334 142.6L333.6 142.7L333.2 142.9L332.9 143.1L332.6 143.3L332.3 143.6L332.1 143.8L331.8 144.1L331.6 144.4L331.4 144.8L331.2 145.2L331.1 145.6L330.9 146L330.8 146.5L330.7 146.9L330.6 147.4L330.5 147.9L330.5 148.3L330.4 148.8L330.4 149.3L330.4 149.8L330.5 150.4L330.5 150.9L330.6 151.5L330.7 152.1L330.8 152.7L330.9 153.3L331.1 154L331.2 154.7L331.4 155.5L331.5 156.2L331.7 157L331.8 157.7L331.9 158.5L332 159.2L332.1 160L332.1 160.8L332.2 161.5L332.2 162.3L332.2 163.1L332.2 163.9L332.1 164.7L332.1 165.5L332 166.3L331.9 167.1L331.8 167.8L331.7 168.5L331.6 169.1L331.5 169.7L331.3 170.4L331.1 171L330.9 171.6L330.7 172.2L330.5 172.9L330.2 173.5L329.9 174L329.7 174.6L329.3 175.1L329 175.6L328.7 176.1L328.3 176.5L327.9 177L327.5 177.4L327.2 177.7L326.8 178.1L326.4 178.4L326 178.6L325.6 178.9L325.1 179.2L324.6 179.6L324.1 179.9L323.5 180.2L322.9 180.5L322.3 180.9L321.6 181.2L320.8 181.6L319.9 182L319 182.4L318 182.8L317.1 183.2L316.1 183.6L315.2 184L314.2 184.3L313.2 184.7L312.2 185L311.3 185.3L310.5 185.5L309.7 185.8L309 186L308.4 186.1L307.8 186.2L307.2 186.4L306.6 186.5L306 186.6L305.5 186.6L305 186.7L304.5 186.7L304 186.8L303.5 186.7L302.9 186.7L302.4 186.6L301.8 186.6L301.2 186.4L300.6 186.3L300.1 186.1L299.5 185.9L298.9 185.7L298.3 185.4L297.7 185.1L297.1 184.8L296.5 184.5L296 184.1L295.4 183.8L294.9 183.4L294.4 183L293.8 182.6L293.3 182.1L292.7 181.7L292.1 181.1L291.6 180.6L291 180L290.4 179.4L289.9 178.8L289.4 178.2L288.9 177.6L288.4 177L287.9 176.4L287.5 175.8L287.1 175.2L286.7 174.5L286.2 173.9L285.8 173.2L285.5 172.6L285.1 171.9L284.7 171.3L284.4 170.8L284 170.3L283.7 169.8L283.4 169.3L283.1 168.8L282.7 168.4L282.4 168L282 167.7L281.7 167.3L281.3 167L281 166.7L280.6 166.5L280.2 166.2L279.8 166L279.4 165.7L279 165.5L278.6 165.4L278.2 165.2L277.8 165.1L277.4 165.1L277.1 165.1L276.7 165.1L276.4 165.2L276 165.3L275.6 165.4L275.2 165.5L274.8 165.7L274.5 165.9L274.1 166L273.7 166.2L273.3 166.4L272.9 166.7L272.5 166.9L272.1 167.1L271.8 167.3L271.5 167.4L271.5 167.4L271.4 167.5L271.2 167.6L270.9 167.8L270.5 168L270.1 168.2L269.7 168.4L269.3 168.7L268.9 168.9L268.6 169.1L268.2 169.3L267.9 169.6L267.5 169.8L267.2 170.1L267 170.3L266.7 170.6L266.5 170.9L266.3 171.2L266.2 171.6L266 171.9L265.9 172.3L265.8 172.7L265.8 173.2L265.8 173.7L265.8 174.1L265.8 174.6L265.8 175.1L265.9 175.5L265.9 176L266 176.5L266.1 177L266.3 177.5L266.5 178L266.7 178.5L266.9 179L267.1 179.5L267.4 180.1L267.7 180.7L268 181.3L268.3 182L268.7 182.7L269 183.3L269.4 184L269.7 184.7L270 185.4L270.3 186.1L270.5 186.9L270.8 187.6L271 188.3L271.2 189.1L271.5 189.8L271.6 190.6L271.8 191.4L272 192.2L272.1 193L272.2 193.7L272.3 194.4L272.4 195.1L272.4 195.8L272.5 196.4L272.5 197.1L272.4 197.7L272.4 198.4L272.4 199L272.3 199.7L272.2 200.3L272.1 201L272 201.6L271.8 202.2L271.6 202.7L271.4 203.3L271.2 203.8L270.9 204.3L270.6 204.8L270.4 205.3L270.1 205.7L269.8 206.1L269.5 206.4L269.1 206.8L268.8 207.3L268.4 207.7L267.9 208.1L267.5 208.6L267 209.1L266.5 209.5L265.9 210.1L265.2 210.6L264.5 211.2L263.7 211.9L262.9 212.5L262 213.2L261.2 213.8L260.4 214.4L259.5 215L258.7 215.6L257.8 216.1L257 216.7L256.3 217.1L255.6 217.5L255 217.9L254.4 218.2L253.8 218.5L253.3 218.8L252.7 219L252.2 219.3L251.7 219.5L251.3 219.7L250.8 219.8L250.3 220L249.8 220.1L249.3 220.2L248.7 220.3L248.2 220.3L247.6 220.4L247 220.4L246.4 220.4L245.7 220.3L245.1 220.2L244.5 220.1L243.8 220L243.2 219.9L242.5 219.7L241.9 219.5L241.3 219.3L240.7 219.1L240.1 218.8L239.4 218.6L238.8 218.3L238.1 218L237.4 217.6L236.7 217.2L236 216.8L235.3 216.4L234.6 216L234 215.5L233.4 215.1L232.7 214.6L232.2 214.1L231.6 213.7L231 213.2L230.4 212.7L229.8 212.1L229.3 211.6L228.7 211L228.2 210.5L227.7 210.1L227.2 209.6L226.8 209.2L226.3 208.8L225.9 208.4L225.5 208.1L225 207.8L224.6 207.5L224.2 207.2L223.8 207L223.3 206.8L222.9 206.6L222.5 206.4L222 206.3L221.6 206.1L221.1 206L220.7 205.9L220.2 205.9L219.8 205.8L219.4 205.9L219.1 205.9L218.7 206L218.4 206.1L218 206.3L217.7 206.4L217.4 206.6L217 206.9L216.7 207.1L216.4 207.4L216.1 207.7L215.8 208L215.4 208.3L215.1 208.6L214.7 208.9L214.4 209.2L214.2 209.5L214 209.7L213.9 209.7L213.9 209.8L213.7 209.9L213.4 210.2L213.1 210.5L212.8 210.8L212.4 211.2L212.1 211.5L211.8 211.8L211.5 212.1L211.2 212.4L211 212.7L210.7 213L210.5 213.4L210.3 213.7L210.2 214L210 214.4L209.9 214.7L209.8 215.1L209.8 215.5L209.8 215.9L209.9 216.3L209.9 216.8L210 217.2L210.1 217.7L210.3 218.1L210.4 218.6L210.6 219L210.8 219.4L211 219.9L211.2 220.3L211.5 220.7L211.8 221.2L212.1 221.6L212.5 222.1L212.9 222.5L213.3 223L213.7 223.5L214.1 224L214.6 224.6L215.1 225.1L215.7 225.7L216.2 226.3L216.7 226.9L217.1 227.5L217.6 228.1L218 228.7L218.5 229.4L218.9 230L219.3 230.7L219.7 231.4L220.1 232.1L220.5 232.8L220.8 233.5L221.1 234.2L221.4 234.9L221.7 235.6L221.9 236.2L222.2 236.8L222.4 237.5L222.5 238.1L222.7 238.7L222.8 239.4L222.9 240L223.1 240.7L223.1 241.3L223.2 241.9L223.2 242.6L223.2 243.2L223.2 243.8L223.1 244.4L223 244.9L222.9 245.5L222.8 246L222.6 246.5L222.5 247L222.3 247.5L222.1 247.9L221.8 248.4L221.6 248.9L221.3 249.4L221 250L220.7 250.5L220.4 251.1L220 251.7L219.5 252.3L219 253.1L218.5 253.9L217.9 254.7L217.3 255.5L216.6 256.3L216 257.1L215.4 257.9L214.7 258.7L214 259.5L213.3 260.3L212.7 261L212.1 261.7L211.5 262.2L211 262.7L210.5 263.2L210.1 263.6L209.6 264L209.2 264.4L208.7 264.8L208.3 265.1L207.9 265.4L207.5 265.7L207.1 265.9L206.6 266.2L206.1 266.4L205.6 266.7L205.1 266.9L204.5 267.1L203.9 267.2L203.3 267.4L202.7 267.5L202.1 267.6L201.5 267.6L200.8 267.7L200.1 267.7L199.5 267.7L198.8 267.7L198.2 267.6L197.5 267.6L196.9 267.5L196.2 267.4L195.5 267.3L194.8 267.2L194 267L193.2 266.8L192.4 266.6L191.6 266.4L190.9 266.1L190.1 265.9L189.4 265.6L188.7 265.3L188 265L187.3 264.7L186.6 264.4L186 264L185.3 263.7L184.6 263.3L183.9 262.9L183.3 262.5L182.7 262.2L182.1 261.9L181.5 261.6L181 261.4L180.5 261.1L180 260.9L179.5 260.7L179 260.5L178.5 260.4L178 260.3L177.6 260.2L177.1 260.1L176.7 260.1L176.2 260L175.7 260L175.3 260L174.8 260.1L174.4 260.1L174 260.2L173.6 260.3L173.3 260.5L172.9 260.6L172.6 260.8L172.4 261.1L172.1 261.3L171.8 261.6L171.5 261.9L171.3 262.3L171.1 262.6L170.8 263L170.6 263.3L170.4 263.7L170.1 264.1L169.9 264.5L169.6 264.9L169.4 265.2L169.3 265.4L169.3 265.5L169.2 265.5L169.1 265.7L168.9 266.1L168.7 266.4L168.4 266.8L168.2 267.3L168 267.6L167.8 268L167.6 268.4L167.4 268.7L167.2 269.1L167 269.5L166.9 269.9L166.8 270.2L166.7 270.6L166.7 271L166.7 271.3L166.7 271.7L166.8 272.1L166.9 272.5L167 272.9L167.2 273.3L167.4 273.7L167.7 274.1L167.9 274.5L168.2 274.9L168.4 275.3L168.7 275.7L169.1 276L169.4 276.4L169.8 276.7L170.2 277.1L170.6 277.4L171.1 277.8L171.6 278.1L172.1 278.5L172.6 278.8L173.2 279.2L173.8 279.6L174.4 280.1L175.1 280.5L175.7 280.9L176.4 281.4L177 281.8L177.6 282.3L178.1 282.8L178.7 283.3L179.3 283.8L179.9 284.3L180.4 284.9L181 285.5L181.5 286.1L182.1 286.7L182.6 287.3L183.1 287.9L183.5 288.4L183.9 289L184.2 289.5L184.6 290.1L184.9 290.6L185.2 291.2L185.5 291.8L185.8 292.4L186.1 293L186.3 293.6L186.6 294.2L186.7 294.8L186.9 295.4L187 296L187.1 296.5L187.2 297.1L187.2 297.7L187.2 298.2L187.2 298.8L187.2 299.3L187.1 299.8L187 300.3L186.9 300.8L186.8 301.3L186.7 301.9L186.5 302.5L186.4 303.1L186.2 303.7L186 304.4L185.7 305.2L185.4 306L185.1 306.9L184.7 307.9L184.3 308.8L183.9 309.8L183.5 310.7L183.1 311.7L182.7 312.6L182.2 313.5L181.8 314.5L181.3 315.3L180.9 316.1L180.6 316.8L180.2 317.4L179.8 318L179.5 318.5L179.2 319L178.8 319.5L178.5 320L178.2 320.4L177.9 320.8L177.6 321.2L177.2 321.5L176.8 321.9L176.4 322.2L176 322.6L175.5 322.9L175 323.3L174.5 323.6L174 323.9L173.4 324.1L172.8 324.4L172.2 324.6L171.6 324.8L170.9 325L170.3 325.2L169.7 325.3L169.1 325.5L168.4 325.6L167.8 325.7L167.1 325.8L166.4 325.8L165.6 325.9L164.8 325.9L164 326L163.2 326L162.4 325.9L161.6 325.9L160.8 325.9L160.1 325.8L159.3 325.7L158.6 325.6L157.8 325.5L157.1 325.3L156.3 325.2L155.5 325L154.8 324.8L154.1 324.6L153.3 324.4L152.7 324.3L152 324.1L151.4 324L150.8 323.9L150.3 323.8L149.7 323.7L149.2 323.6L148.7 323.6L148.2 323.6L147.7 323.6L147.2 323.6L146.8 323.7L146.3 323.7L145.9 323.8L145.4 323.9L144.9 324.1L144.5 324.2L144.1 324.4L143.7 324.6L143.4 324.8L143.1 325L142.9 325.3L142.6 325.5L142.4 325.8L142.2 326.1L142 326.5L141.8 326.9L141.7 327.2L141.5 327.6L141.4 328L141.3 328.4L141.1 328.9L141 329.3L140.9 329.8L140.8 330.2L140.7 330.6L140.6 330.8L139.8 333.4L139.1 336L138.4 338.6L137.8 341.2L137.1 343.8L113.4 338.1A298 298 0 0 1 403.3 109.2L745.5 109.2" fill="none" stroke="#1c1c1c" stroke-width="3.5" stroke-linejoin="round"/>
<path d="M122.5 338.8A289 289 0 0 1 403.3 118.2" fill="none" stroke="#167ea5" stroke-width="3.2" stroke-dasharray="7 7.38"/>
<path d="M403.3 118.2L791 118.2" fill="none" stroke="#167ea5" stroke-width="3.2" stroke-dasharray="7 7.38" stroke-dashoffset="7.08"/>
<path d="M383.6 672.3A266.8 266.8 0 0 1 143.1 344.5L143.5 343.2L143.9 341.3L144.4 339.4L145 337.5L145.5 335.5L146 333.6L146.7 331.8L147.6 330.4L149.2 329.9L151 330.1L153 330.5L154.9 331L156.9 331.4L158.9 331.6L160.9 331.8L162.9 331.9L164.9 331.9L166.8 331.8L168.8 331.6L170.8 331.2L172.7 330.7L174.6 330.1L176.4 329.3L178.2 328.3L179.8 327.1L181.3 325.8L182.6 324.3L183.8 322.7L184.9 321.1L186 319.4L186.9 317.6L187.8 315.8L188.6 314L189.4 312.2L190.2 310.3L190.9 308.4L191.6 306.6L192.1 304.6L192.6 302.7L192.9 300.7L193.1 298.8L193.1 296.8L192.8 294.8L192.3 292.9L191.7 291L190.9 289.2L189.9 287.4L188.8 285.7L187.7 284.1L186.4 282.6L185.1 281.1L183.6 279.7L182.1 278.3L180.6 277.1L179 275.9L177.3 274.8L175.7 273.6L174.3 272.4L173.7 270.9L174.1 269.2L175.1 267.7L176.5 266.8L178.1 266.8L179.9 267.6L181.6 268.5L183.4 269.4L185.2 270.3L187.1 271.1L188.9 271.8L190.8 272.3L192.8 272.8L194.7 273.2L196.7 273.5L198.7 273.6L200.7 273.6L202.7 273.5L204.7 273.1L206.6 272.6L208.4 271.9L210.2 271L211.9 269.9L213.4 268.6L214.9 267.3L216.3 265.9L217.7 264.4L219 262.9L220.3 261.4L221.5 259.8L222.7 258.2L223.9 256.6L225 254.9L226 253.2L227 251.4L227.8 249.6L228.4 247.7L228.9 245.8L229.1 243.8L229.1 241.8L228.9 239.8L228.6 237.9L228.1 235.9L227.5 234L226.7 232.2L225.9 230.4L225 228.6L224 226.9L222.8 225.2L221.7 223.6L220.4 222.1L219.1 220.6L217.8 219L216.9 217.4L216.9 215.9L217.8 214.4L219.2 213.2L220.8 212.8L222.4 213.5L223.9 214.7L225.3 216.1L226.8 217.4L228.3 218.7L229.9 219.9L231.6 221.1L233.3 222.1L235 223.1L236.8 223.9L238.7 224.7L240.6 225.3L242.5 225.8L244.5 226.1L246.5 226.3L248.4 226.3L250.4 226L252.4 225.5L254.2 224.9L256.1 224L257.8 223.1L259.6 222.1L261.2 221L262.9 219.9L264.5 218.8L266.1 217.6L267.7 216.3L269.2 215.1L270.7 213.7L272.2 212.3L273.5 210.9L274.8 209.3L275.8 207.6L276.7 205.8L277.4 204L277.9 202.1L278.2 200.1L278.4 198.1L278.4 196.1L278.3 194.1L278 192.1L277.6 190.2L277.2 188.2L276.6 186.3L276 184.4L275.2 182.6L274.4 180.7L273.5 178.9L272.7 177.1L272.4 175.4L272.9 173.9L274.3 172.8L276 172.1L277.6 172.3L278.9 173.5L280 175.1L281 176.8L282.1 178.5L283.3 180.1L284.5 181.7L285.8 183.2L287.2 184.6L288.7 186L290.2 187.3L291.8 188.5L293.5 189.6L295.2 190.5L297.1 191.3L298.9 192L300.9 192.4L302.9 192.6L304.8 192.6L306.8 192.4L308.8 192.1L310.7 191.7L312.7 191.1L314.6 190.5L316.5 189.9L318.3 189.1L320.2 188.4L322 187.6L323.8 186.8L325.6 185.9L327.3 184.9L329 183.8L330.6 182.6L332.1 181.2L333.3 179.7L334.5 178L335.4 176.3L336.2 174.5L336.9 172.6L337.4 170.6L337.7 168.7L338 166.7L338.1 164.7L338.2 162.7L338.1 160.7L337.9 158.7L337.7 156.7L337.3 154.8L337 152.8L336.7 150.9L336.9 149.1L338 148L339.7 147.3L341.4 147.2L342.8 148L343.7 149.6L344.3 151.4L344.9 153.3L345.5 155.2L346.3 157.1L347.1 158.9L347.9 160.7L348.9 162.5L350 164.2L351.2 165.8L352.4 167.3L353.8 168.8L355.2 170.1L356.8 171.4L358.5 172.4L360.3 173.3L362.1 174L364.1 174.5L366 174.8L368 175L370 175.1L372 175L374 174.9L376 174.8L378 174.5L380 174.3L381.9 174L383.9 173.6L385.9 173.2L387.8 172.7L389.7 172L391.5 171.3L393.3 170.3L394.9 169.1L396.4 167.8L397.7 166.4L398.9 164.8L400 163.1L401 161.3L401.8 159.5L402.6 157.7L403.2 155.8L403.7 153.9L404.2 151.9L404.5 150L404.8 148L404.9 146L405.1 144L405.4 142.1L406.1 140.5L407.6 139.8L409.4 139.6L411.2 139.6L412.9 139.6C413.3 141 414.6 144.7 415.4 148.1C416.2 151.5 416.5 156.7 417.4 160C418.3 163.3 419.4 165.8 421 168C422.6 170.2 424.7 172 427.2 173.5C429.7 175 432.9 176.3 436.2 177.1C439.5 177.9 443.8 178.7 447.1 178.5C450.4 178.3 453.6 177.5 456.2 176.2C458.8 174.9 460.4 173.4 462.5 170.8C464.6 168.2 466.9 163.7 468.8 160.8C470.7 157.9 472 154.9 473.6 153.2C475.2 151.5 476.6 150.9 478.2 150.8C479.8 150.7 481.9 151.3 483.1 152.6C484.3 153.9 485 155.7 485.2 158.4C485.4 161.1 484.5 165.2 484.4 168.6C484.3 172 484.1 175.6 484.6 178.8C485.1 182 485.7 185.3 487.5 188C489.3 190.7 492.5 193.1 495.5 195.1C498.5 197.1 502.3 199.1 505.7 200C509.1 200.9 512.5 201.2 515.9 200.6C519.3 200 522.7 198.6 526.1 196.2C529.5 193.8 533.4 188.9 536.3 186.4C539.2 183.9 542.2 181.8 543.4 180.9A266.8 266.8 0 0 1 579.2 605.1C578.3 604.6 576.2 604.1 573.7 602.2C571.2 600.4 567.4 596 564.2 594C561 592 557.8 590.6 554.6 590.1C551.4 589.6 548.5 589.7 545.1 590.9C541.7 592.1 537.2 594.7 534 597.2C530.8 599.7 527.6 602.8 525.6 605.7C523.6 608.6 522.5 610.7 522.3 614.6C522.1 618.5 523.6 624.4 524.2 628.9C524.8 633.4 526.4 638.5 525.9 641.5C525.4 644.5 523.1 646.2 521.5 646.8C519.9 647.4 518.3 647.1 516.2 645.2C514.1 643.3 511.3 638.2 508.7 635.2C506.1 632.2 503.6 629.2 500.7 627.3C497.8 625.4 494.4 624.3 491.2 623.8C488 623.3 485.4 623.5 481.7 624.2C478 624.9 472.4 626.3 469 628.1C465.6 629.9 463 632.2 461.1 635.2C459.2 638.2 457.9 642 457.4 646.3C456.8 650.6 458.1 657.3 457.8 661C457.5 664.7 456.8 666.8 455.6 668.3C454.4 669.8 452 670.6 450.4 670.3C448.8 670 447.2 668.7 445.9 666.6C444.6 664.5 443.8 660.8 442.5 657.6C441.2 654.4 439.7 650 438 647.4C436.3 644.8 434.6 643.2 432.3 641.7C430 640.2 427.2 639 424.4 638.3C421.6 637.6 418.7 637.6 415.3 637.7C411.9 637.8 407.2 638 404 638.9C400.8 639.8 398.3 640.8 396 642.8C393.7 644.8 391.9 648 390.4 650.8C388.9 653.6 388.1 656.2 387 659.8C385.9 663.4 384.2 670.2 383.6 672.3Z" fill="none" stroke="#1c1c1c" stroke-width="3.5" stroke-linejoin="round"/>
<path d="M260.7 320.3A166.3 166.3 0 0 1 542.4 317.4M568.2 393A166.3 166.3 0 1 1 236.4 415.9" fill="none" stroke="#1c1c1c" stroke-width="3.4"/>
<circle cx="403.3" cy="407.2" r="82.5" fill="none" stroke="#1c1c1c" stroke-width="3.4"/>
<g fill="none" stroke="#167ea5" stroke-width="3.3" stroke-dasharray="6.6 7.3">
<path d="M145 69L400.5 403"/>
<path d="M252 15.3L400.5 403"/>
</g>
<g fill="none" stroke="#167ea5" stroke-width="3.2">
<path d="M135.1 338.8L669.1 471.4"/>
<path d="M165.3 483.7L638.6 325.7"/>
<path d="M659.4 140V174C659.6 203 672 220 692.8 221.2"/>
<path d="M309 67.2C280 68.5 255 80 243 97C233 112 235 132 246 145"/>
<path d="M717.1 552C717 530 710 512 697 502"/>
</g>
<g fill="#167ea5">
<path d="M121 335.3L139.1 331L135 347.5ZM683.2 474.9L665.1 479.2L669.2 462.7ZM151.5 488.3L164.5 475L169.8 491.1ZM652.4 321.1L639.4 334.4L634.1 318.3Z"/>
<path d="M659.4 125.7L667.9 142.2L650.9 142.2Z"/>
<path d="M254.2 157.1L238 148.1L252.1 138.7Z"/>
<path d="M683.2 494.8L701.8 494.8L693.9 509.9Z"/>
</g>
<g fill="#1b7d9f" stroke="#1b7d9f" stroke-width="0.2" font-family="&quot;Liberation Sans&quot;, sans-serif" font-size="28.5">
<g font-size="29.2"><text x="327.2" y="76.9">Pitch</text><text x="408" y="76.9">(circular</text><text x="526" y="76.9">pitch)</text></g>
<text x="702.7" y="180">Belt</text>
<text x="702.7" y="208.7">Pitch</text>
<text x="702.7" y="237.8">Line</text>
<text x="682.5" y="594.5">Sprocket</text>
<text x="682.5" y="623.2">Pitch</text>
<text x="682.5" y="651.9">Circle</text>
<g font-size="29.3">
<text transform="translate(200.7 346.3) rotate(13.95)">Pitch</text>
<text transform="translate(165.6 374.6) rotate(13.95)">Diameter</text>
<text transform="translate(511 358) rotate(-18.46)">Outside</text>
<text transform="translate(516 396) rotate(-18.46)">Diameter</text>
</g>
</g>
</svg></body></html>
